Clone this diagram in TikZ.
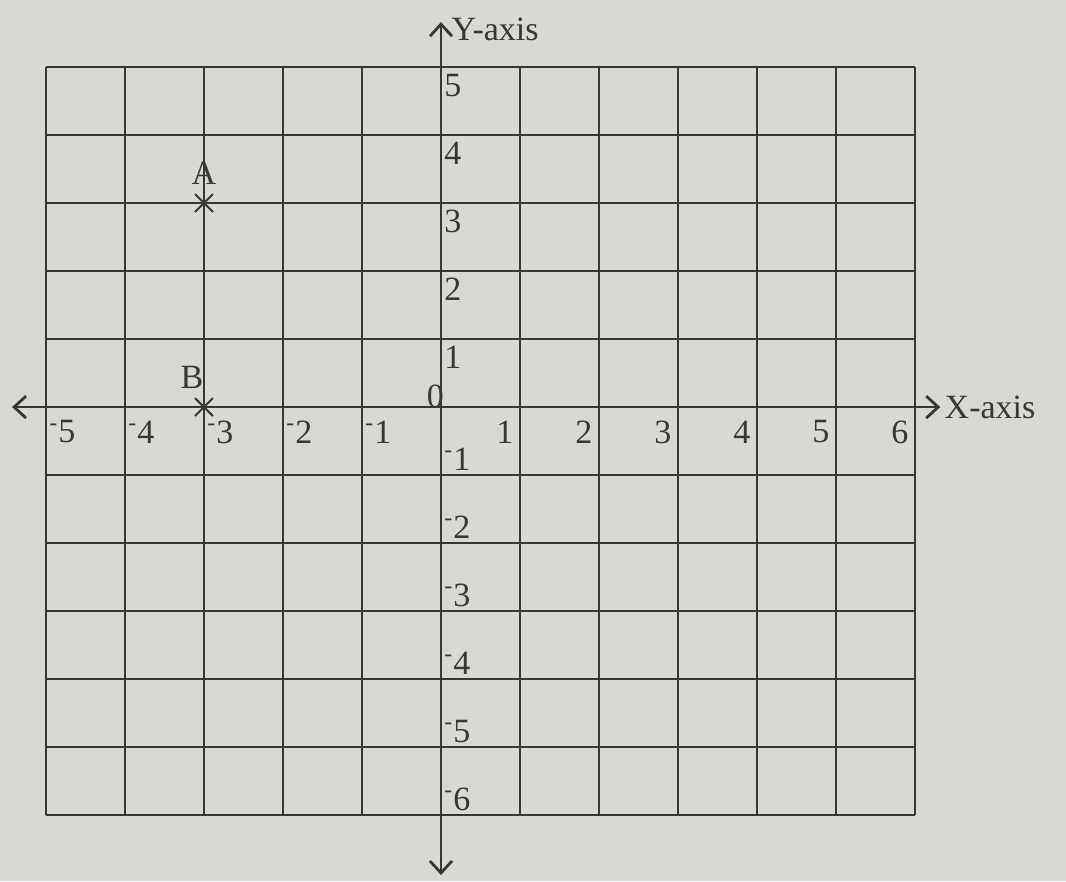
\documentclass[tikz,border=0pt]{standalone}
\usepackage{fontspec}
\setmainfont{Liberation Serif}
\usepackage{xcolor}
\usepackage{tikz}
\usetikzlibrary{arrows.meta,positioning,shapes.misc}
\definecolor{paper}{RGB}{218,216,210}
\definecolor{ink}{RGB}{55,55,55}
\newcommand{\negnum}[1]{\textsuperscript{-}#1}
\begin{document}
\begin{tikzpicture}[x=1.388cm, y=1.195cm, draw=ink, text=ink,
		font=\fontsize{17}{19}\selectfont,
		gridline/.style={line width=0.9pt},
		axis/.style={line width=1.4pt, {Straight Barb[length=6pt,width=11pt]}-{Straight Barb[length=6pt,width=11pt]}},
		lbl/.style={inner sep=1.5pt},
		pt/.style={draw, cross out, line width=1pt, minimum size=8pt, inner sep=0pt}]
	\useasboundingbox (-5.582,-6.971) rectangle (7.911,5.985);
	\fill[paper] (-5.582,-6.971) rectangle (7.911,5.985);
	\draw[gridline, step={(1,1)}] (-5,-6) grid (6,5);
	\coordinate (xl) at (-5.43,0);
	\coordinate (xr) at (6.32,0);
	\coordinate (yb) at (0,-6.88);
	\coordinate (yt) at (0,5.66);
	\draw[axis] (xl) -- (xr);
	\draw[axis] (yb) -- (yt);
	\node[anchor=west, inner sep=2pt] (xlab) at (xr) {X-axis};
	\node[anchor=west, inner sep=2pt] (ylab) at (0.08,5.55) {Y-axis};
	\node[lbl, anchor=south east] (o) at (0.08,-0.06) {0};
	\foreach \i in {1,...,6}
		\node[lbl, anchor=north east] (x\i) at (\i-0.04,-0.15) {\i};
	\foreach \i in {1,...,5}
		\node[lbl, anchor=north west] (xm\i) at (-\i,-0.15) {\negnum{\i}};
	\foreach \i in {1,...,5}
		\node[lbl, anchor=north west] (y\i) at (0,\i-0.05) {\i};
	\foreach \i in {1,...,6}
		\node[lbl, anchor=south west] (ym\i) at (0,-\i+0.02) {\negnum{\i}};
	\node[pt] (A) at (-3,3) {};
	\node[pt] (B) at (-3,0) {};
	\node[lbl, above=3pt of A] (Alab) {A};
	\node[lbl, above=3pt of B, xshift=-6pt] (Blab) {B};
\end{tikzpicture}
\end{document}
